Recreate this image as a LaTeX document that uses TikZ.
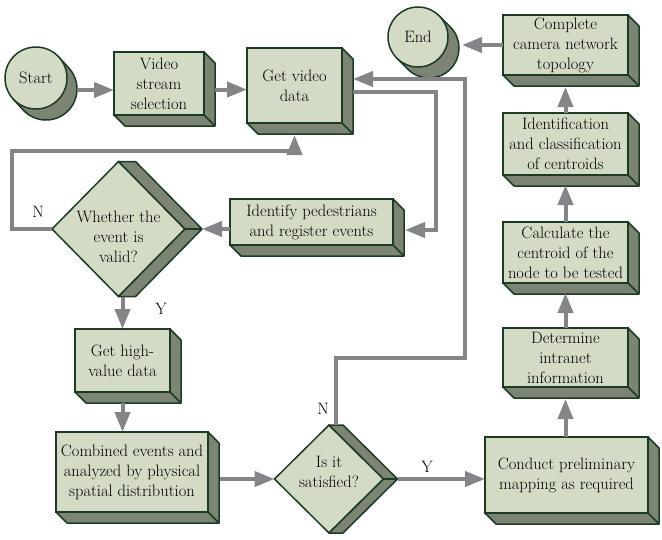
\documentclass[tikz,border=0pt]{standalone}
\usepackage{tikz}
\usetikzlibrary{arrows.meta, calc, positioning, shapes.geometric, backgrounds}
\definecolor{flaeche}{HTML}{D4DBC5}
\definecolor{tief}{HTML}{7C8473}
\definecolor{rand}{HTML}{1D3B24}
\definecolor{pfeilgrau}{HTML}{848589}
\newcommand{\schrift}{\fontsize{16.5}{20}\selectfont}

\tikzset{
  kasten/.style={draw=rand, fill=flaeche, line width=1.5pt, inner sep=0pt,
                 outer sep=0pt, align=center, font=\schrift},
  raute/.style={diamond, draw=rand, fill=flaeche, line width=1.5pt,
                inner sep=0pt, outer sep=0pt},
  schatten/.style={draw=rand, fill=tief, line width=1.5pt, line join=round},
  pfeil/.style={draw=pfeilgrau, line width=4pt,
                -{Triangle[length=20pt, width=15pt]}},
  marke/.style={font=\schrift, align=center}
}

% Quader: Seitenflaechen rechts unten
\newcommand{\quader}[1]{%
  \filldraw[schatten] (#1.north east) -- ++(11,-11) -- ($(#1.south east)+(11,-11)$)
    -- ($(#1.south west)+(11,-11)$) -- (#1.south west) -- (#1.south east) -- cycle;
  \draw[schatten] (#1.south east) -- ++(11,-11);}
% Raute: Seitenflaeche rechts
\newcommand{\prisma}[2]{%
  \filldraw[schatten] (#1.north) -- ++(#2,0) -- ($(#1.east)+(#2,0)$)
    -- ($(#1.south)+(#2,0)$) -- (#1.south) -- (#1.east) -- cycle;
  \draw[schatten] (#1.east) -- ++(#2,0);}

\begin{document}
\begin{tikzpicture}[x=1pt, y=1pt]
  \useasboundingbox (0,0) rectangle (662,-539);

  % Start und Ende
  \node[kasten, circle, minimum size=62pt] (start) at (36,-78) {Start};
  \node[kasten, circle, minimum size=60pt] (ende) at (418,-37) {End};
  \begin{scope}[on background layer]
    \filldraw[schatten] ($(start.center)+(42:31pt)$) -- ++(10,-11)
      arc[start angle=42, end angle=-138, radius=31pt]
      -- ($(start.center)+(-138:31pt)$) -- cycle;
    \filldraw[schatten] ($(ende.center)+(45:30pt)$) -- ++(11,-11)
      arc[start angle=45, end angle=-135, radius=30pt]
      -- ($(ende.center)+(-135:30pt)$) -- cycle;
  \end{scope}

  % linke Spalte
  \node[kasten, minimum width=90pt, minimum height=63pt] (video) at (159,-83.5)
    {Video\\stream\\selection};
  \node[kasten, minimum width=95pt, minimum height=75pt] (getvid) at (294.5,-85.5)
    {Get video\\data};
  \node[kasten, minimum width=163pt, minimum height=46pt] (identify) at (311.5,-222)
    {Identify pedestrians\\and register events};
  \node[kasten, minimum width=95pt, minimum height=63pt] (highval) at (122.5,-360.5)
    {Get high-\\value data};
  \node[kasten, minimum width=152pt, minimum height=80pt] (combined) at (132,-472)
    {Combined events and\\analyzed by physical\\spatial distribution};

  % rechte Spalte
  \node[kasten, minimum width=163pt, minimum height=76pt] (conduct) at (566.5,-475)
    {Conduct preliminary\\mapping as required};
  \node[kasten, minimum width=125pt, minimum height=59pt] (determine) at (565.5,-357.5)
    {Determine\\intranet\\information};
  \node[kasten, minimum width=125pt, minimum height=61pt] (centroid) at (565.5,-252.5)
    {Calculate the\\centroid of the\\node to be tested};
  \node[kasten, minimum width=125pt, minimum height=62pt] (classify) at (565.5,-144)
    {Identification\\and classification\\of centroids};
  \node[kasten, minimum width=125pt, minimum height=60pt] (complete) at (565.5,-45)
    {Complete\\camera network\\topology};

  \foreach \k in {video, getvid, identify, highval, combined,
                  conduct, determine, centroid, classify, complete}
    {\quader{\k}}

  % Entscheidungen
  \node[raute, minimum width=133pt, minimum height=135pt] (valid) at (118.5,-229) {};
  \prisma{valid}{17}
  \node[marke] (validtxt) at ($(valid.center)+(0,-8)$) {Whether the\\event is\\valid?};
  \node[raute, minimum width=109pt, minimum height=108pt] (satisfied) at (329,-479) {};
  \prisma{satisfied}{14}
  \node[marke] (sattxt) at ($(satisfied.center)+(0,7)$) {Is it\\satisfied?};

  % Verbindungen
  \draw[pfeil] ($(start.east)+(10,-12)$) -- ($(video.west)+(0,-6.5)$);
  \draw[pfeil] ($(video.east)+(11,-6)$) -- ($(getvid.west)+(0,-4)$);
  \draw[pfeil] (valid.west) -- ++(-40,0) |- ($(getvid.south)+(0,-28)$)
    -- ($(getvid.south)+(0,-12)$);
  \draw[pfeil] ($(getvid.east)+(11,-6.5)$) -- ++(83,0) |- ($(identify.east)+(12,-8)$);
  \draw[pfeil] (identify.west |- valid.east) -- ($(valid.east)+(17,0)$);
  \draw[pfeil] (valid.south -| highval.north) -- (highval.north);
  \draw[pfeil] ($(highval.south)+(0,-11)$) -- (highval.south |- combined.north);
  \draw[pfeil] ($(combined.east |- satisfied.west)+(12,0)$) -- (satisfied.west);
  \draw[pfeil] ($(satisfied.east)+(14,0)$) -- (conduct.west |- satisfied.east);
  \draw[pfeil] ($(satisfied.north)+(7,0)$) -- ++(0,67) -- ++(129,0)
    |- ($(getvid.east)+(11,6.5)$);
  \draw[pfeil] (conduct.north -| determine.south) -- ($(determine.south)+(0,-12)$);
  \draw[pfeil] (determine.north) -- ($(centroid.south)+(0,-10)$);
  \draw[pfeil] (centroid.north) -- ($(classify.south)+(0,-10)$);
  \draw[pfeil] (classify.north) -- ($(complete.south)+(0,-12)$);
  \draw[pfeil] (complete.west) -- ($(ende.east |- complete.west)+(14,0)$);

  % Beschriftungen
  \node[marke] (n1) at (38,-212) {N};
  \node[marke] (y1) at (161,-309) {Y};
  \node[marke] (n2) at (323,-409) {N};
  \node[marke] (y2) at (427,-467) {Y};
\end{tikzpicture}
\end{document}
